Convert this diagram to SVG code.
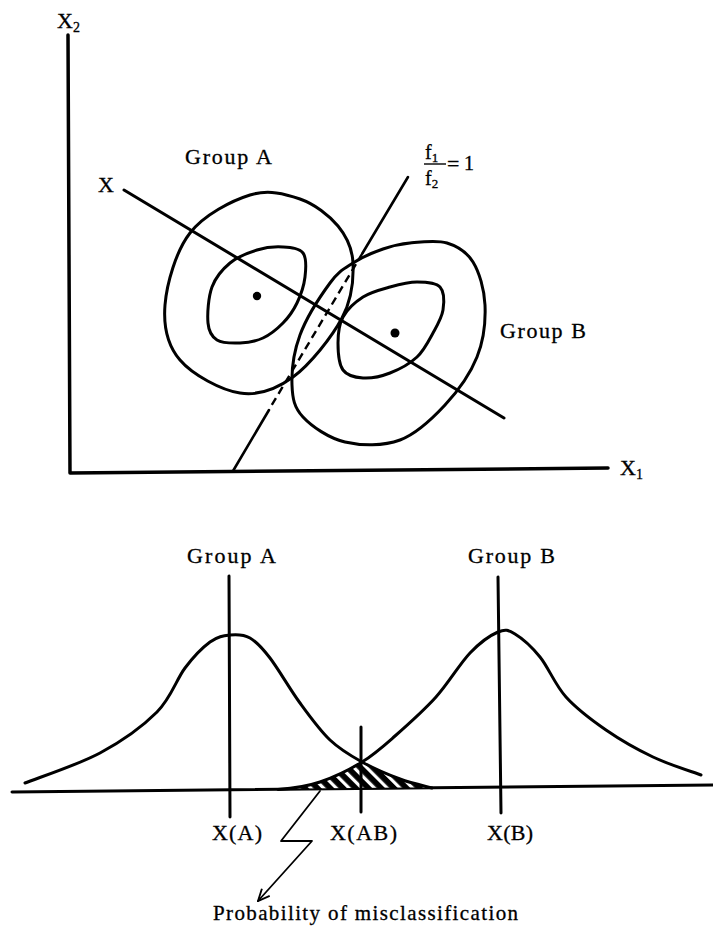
<svg xmlns="http://www.w3.org/2000/svg" width="713" height="926" viewBox="0 0 713 926">
<defs>
<style>
.ln{fill:none;stroke:#000;stroke-linecap:round;stroke-linejoin:round}
.t{font-family:"Liberation Serif","Times New Roman",serif;fill:#000;stroke:#000;stroke-width:0.3}
</style>
<pattern id="hatch" width="9" height="9" patternUnits="userSpaceOnUse" patternTransform="rotate(-45)">
<rect width="9" height="9" fill="#000"/>
<rect x="3" y="0" width="3.2" height="9" fill="#fff"/>
</pattern>
<marker id="arr" viewBox="0 0 12 12" refX="11" refY="6" markerWidth="14" markerHeight="14" markerUnits="userSpaceOnUse" orient="auto">
<path d="M1,1.5 L11,6 L1,10.5" fill="none" stroke="#000" stroke-width="1.6"/>
</marker>
</defs>
<rect width="713" height="926" fill="#fff"/>

<g id="axes">
<path class="ln" d="M68,35 L70,473 L608,468" stroke-width="3.5"/>
<text class="t" x="57" y="28" font-size="22">X<tspan font-size="14" dy="4">2</tspan></text>
<text class="t" x="620" y="475" font-size="22">X<tspan font-size="14" dy="4">1</tspan></text>
</g>

<g id="group-a-contours">
<path class="ln" stroke-width="3" d="M250,195 C268.3,189.3 285.3,193.8 300,199 C314.7,204.2 329.2,215.3 338,226 C346.8,236.7 352.3,247.7 353,263 C353.7,278.3 352,299 342,318 C332,337 310,364.5 293,377 C276,389.5 258.8,395.8 240,393 C221.2,390.2 192.5,374.7 180,360 C167.5,345.3 163.3,326.2 165,305 C166.7,283.8 175.8,251.3 190,233 C204.2,214.7 231.7,200.7 250,195 Z"/>
<path class="ln" stroke-width="3" d="M257,250 C265.8,247.3 275.3,246.5 283,247 C290.7,247.5 299.3,248 303,253 C306.7,258 306,268.7 305,277 C304,285.3 300.7,295.3 297,303 C293.3,310.7 288.7,317.2 283,323 C277.3,328.8 270.2,334.7 263,338 C255.8,341.3 247.7,342.7 240,343 C232.3,343.3 222.3,343.3 217,340 C211.7,336.7 208.8,331.8 208,323 C207.2,314.2 208.3,297 212,287 C215.7,277 222.5,269.2 230,263 C237.5,256.8 248.2,252.7 257,250 Z"/>
<circle cx="257" cy="296" r="4.2" fill="#000"/>
<text class="t" x="185" y="164" font-size="22" textLength="87" lengthAdjust="spacing">Group A</text>
</g>

<g id="group-b-contours">
<path class="ln" stroke-width="3" d="M410,243 C420.7,242 436.5,239.8 447,243 C457.5,246.2 466.7,251.7 473,262 C479.3,272.3 484.3,289.2 485,305 C485.7,320.8 483.7,340.3 477,357 C470.3,373.7 457.8,391.2 445,405 C432.2,418.8 416.7,433.8 400,440 C383.3,446.2 361.2,445.8 345,442 C328.8,438.2 311.8,426.5 303,417 C294.2,407.5 292.5,398.7 292,385 C291.5,371.3 293.7,352 300,335 C306.3,318 321.2,295 330,283 C338.8,271 344.2,268.7 353,263 C361.8,257.3 373.5,252.3 383,249 C392.5,245.7 399.3,244 410,243 Z"/>
<path class="ln" stroke-width="3" d="M390,287 C399,284.5 408.7,282 417,282 C425.3,282 435.7,282.3 440,287 C444.3,291.7 444.2,302.3 443,310 C441.8,317.7 437.3,325.2 433,333 C428.7,340.8 424.2,350.3 417,357 C409.8,363.7 399,369.5 390,373 C381,376.5 370.8,378.5 363,378 C355.2,377.5 347.2,375.8 343,370 C338.8,364.2 338,351.8 338,343 C338,334.2 338.8,324.7 343,317 C347.2,309.3 355.2,302 363,297 C370.8,292 381,289.5 390,287 Z"/>
<circle cx="395" cy="333" r="4.5" fill="#000"/>
<text class="t" x="500" y="338" font-size="22" textLength="86" lengthAdjust="spacing">Group B</text>
</g>

<g id="connectors">
<g id="line-x">
<path class="ln" stroke-width="3" d="M124,190 L504,418"/>
<text class="t" x="98" y="192" font-size="22">X</text>
</g>
<g id="boundary-f1-f2">
<path class="ln" stroke-width="2.6" d="M408,177 L362.6,253"/>
<path fill="none" stroke="#000" stroke-width="2.4" stroke-dasharray="8 5" d="M362.6,253 L271.2,406"/>
<path class="ln" stroke-width="2.6" d="M269,410 L233,471"/>
<text class="t" x="425" y="159" font-size="20">f<tspan font-size="13" dy="3">1</tspan></text>
<path d="M424,164 L446,164" stroke="#000" stroke-width="1.4"/>
<text class="t" x="425" y="185" font-size="20">f<tspan font-size="13" dy="3">2</tspan></text>
<text class="t" x="447" y="171" font-size="22">=</text>
<text class="t" x="464" y="170" font-size="20">1</text>
</g>
<g id="misclass-arrow">
<path class="ln" stroke-width="1.8" d="M320,791 L281,841 L312,841 L258,901" marker-end="url(#arr)"/>
</g>
</g>

<g id="distributions">
<path class="ln" stroke-width="3" d="M12,792 L713,785"/>
<path d="M278,789.5 C285,789 306,786.8 320,782 C334,777.2 349.5,769.7 362,762 C373.7,768.5 388.3,774.7 400,779 C411.7,783.3 426.7,786.5 432,788 Z" fill="url(#hatch)" stroke="#000" stroke-width="1.5"/>
<path class="ln" stroke-width="3" d="M25,783 C37.5,778 78,764.8 100,753 C122,741.2 142.8,726.2 157,712 C171.2,697.8 176.2,679.7 185,668 C193.8,656.3 202.5,647.5 210,642 C217.5,636.5 223.3,635.7 230,635 C236.7,634.3 243.3,634.2 250,638 C256.7,641.8 261.7,647.2 270,658 C278.3,668.8 290,689.3 300,703 C310,716.7 319.7,730.2 330,740 C340.3,749.8 350.3,755.5 362,762 C373.7,768.5 388.3,774.7 400,779 C411.7,783.3 426.7,786.5 432,788"/>
<path class="ln" stroke-width="3" d="M278,789.5 C285,789 306,786.8 320,782 C334,777.2 349.5,769.7 362,762 C374.5,754.3 382.7,746.8 395,736 C407.3,725.2 423.5,710.8 436,697 C448.5,683.2 459.7,663.8 470,653 C480.3,642.2 490.5,635.2 498,632 C505.5,628.8 508,629.8 515,634 C522,638.2 531.5,646.5 540,657 C548.5,667.5 555,684.8 566,697 C577,709.2 591.5,720 606,730 C620.5,740 637.2,749.5 653,757 C668.8,764.5 693,772 701,775"/>
<g id="group-a-dist">
<path class="ln" stroke-width="3" d="M229,576 L230,817"/>
<text class="t" x="187" y="563" font-size="22" textLength="89" lengthAdjust="spacing">Group A</text>
<text class="t" x="212" y="840" font-size="22" textLength="50" lengthAdjust="spacing">X(A)</text>
</g>
<g id="group-b-dist">
<path class="ln" stroke-width="3" d="M498,577 L501,813"/>
<text class="t" x="468" y="563" font-size="22" textLength="87" lengthAdjust="spacing">Group B</text>
<text class="t" x="487" y="840" font-size="22" textLength="46" lengthAdjust="spacing">X(B)</text>
</g>
<g id="ab-cut">
<path class="ln" stroke-width="3" d="M361,727 L361,812"/>
<text class="t" x="330" y="840" font-size="22" textLength="67" lengthAdjust="spacing">X(AB)</text>
</g>
<text class="t" x="213" y="920" font-size="21" textLength="305" lengthAdjust="spacing">Probability of misclassification</text>
</g>
</svg>
